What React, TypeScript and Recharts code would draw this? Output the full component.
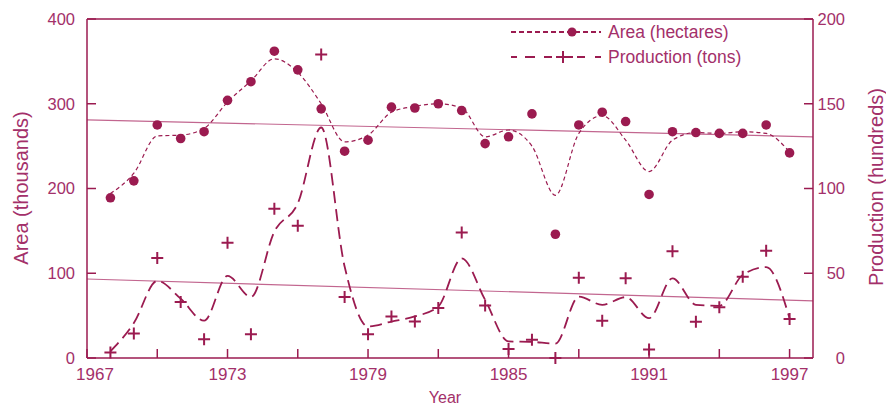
import React from 'react'
import {
  ComposedChart,
  Line,
  XAxis,
  YAxis,
  ReferenceLine,
  Legend,
} from 'recharts'

const years = [
  1968, 1969, 1970, 1971, 1972, 1973, 1974, 1975, 1976, 1977, 1978, 1979, 1980, 1981, 1982,
  1983, 1984, 1985, 1986, 1987, 1988, 1989, 1990, 1991, 1992, 1993, 1994, 1995, 1996, 1997,
]
// area, thousands of hectares (left axis)
const areaValues = [
  189, 209, 275, 259, 267, 304, 326, 362, 340, 294, 244, 257, 296, 295, 300,
  292, 253, 261, 288, 146, 275, 290, 279, 193, 267, 266, 265, 265, 275, 242,
]
const areaSmooth = [
  194, 218, 262, 263, 271, 302, 327, 353, 337, 300, 255, 263, 290, 297, 300,
  295, 261, 269, 250, 192, 265, 286, 257, 220, 257, 266, 265, 267, 265, 243,
]
// production, hundreds of tons (right axis)
const productionValues = [
  3.3, 14.5, 59, 33, 11, 68, 14, 88, 78, 179, 36, 14, 24.5, 21.5, 29.5,
  74, 31, 5.3, 10.8, 0, 47.4, 22, 47, 5, 63, 21.4, 30, 48, 63.3, 23,
]
const productionSmooth = [
  3.9, 20.6, 45.5, 35, 22, 48.4, 36, 74.6, 91.2, 136, 54, 18.6, 21.5, 24.5, 30.4,
  58.8, 34.3, 9.8, 9.5, 8.5, 36.2, 31.4, 35.9, 23.5, 47, 31.4, 30.8, 49, 53.6, 23.5,
]
const trendYears = [1967, 1998]
const areaTrend = [281, 261]
const productionTrend = [46.6, 33.7]

const xTicks = [1967, 1970, 1973, 1976, 1979, 1982, 1985, 1988, 1991, 1994, 1997]
const areaTicks = [0, 100, 200, 300, 400]
const productionTicks = [0, 50, 100, 150, 200]

const MAIN = '#9b1b50'
const TEXT = '#a3306a'
const TREND = '#c2668f'
const FONT = '"Liberation Sans", Arial, sans-serif'

const rows = years.map((year, i) => ({
  year,
  area: areaValues[i],
  areaFit: areaSmooth[i],
  production: productionValues[i],
  productionFit: productionSmooth[i],
}))
const areaTrendData = trendYears.map((year, i) => ({ year, value: areaTrend[i] }))
const productionTrendData = trendYears.map((year, i) => ({ year, value: productionTrend[i] }))

const Cross = (props: any) => {
  const { cx, cy } = props
  if (cx == null || cy == null) return <g />
  return (
    <path
      d={`M${cx - 6},${cy}H${cx + 6}M${cx},${cy - 6}V${cy + 6}`}
      stroke={MAIN}
      strokeWidth={2}
      fill="none"
    />
  )
}

const XTick = (props: any) => {
  const { x, y, payload } = props
  if ((payload.value - 1967) % 6 !== 0) return <g />
  const shift = payload.value === 1967 ? 8 : 0
  return (
    <text x={x + shift} y={y} dy="0.71em" textAnchor="middle" fill={TEXT} fontSize={17} fontFamily={FONT}>
      {payload.value}
    </text>
  )
}

const LeftTick = (props: any) => {
  const { x, y, payload } = props
  return (
    <text x={x} y={y} dy="0.355em" textAnchor="end" fill={TEXT} fontSize={16.5} fontFamily={FONT}>
      {payload.value}
    </text>
  )
}

const RightTick = (props: any) => {
  const { x, y, payload } = props
  return (
    <text x={x} y={y} dy="0.355em" textAnchor="end" fill={TEXT} fontSize={16.5} fontFamily={FONT}>
      {payload.value}
    </text>
  )
}

const Title = (props: any) => {
  const { tx, ty, text, rotate, size } = props
  return (
    <text
      x={tx}
      y={ty}
      transform={rotate ? `rotate(-90, ${tx}, ${ty})` : undefined}
      textAnchor="middle"
      dominantBaseline="central"
      fill={TEXT}
      fontSize={size}
      fontFamily={FONT}
    >
      {text}
    </text>
  )
}

const LegendBox = () => (
  <svg width={260} height={55} style={{ display: 'block' }}>
    <line x1={11} y1={17} x2={101} y2={17} stroke={MAIN} strokeWidth={2} strokeDasharray="5 3" />
    <circle cx={72} cy={17} r={4.5} fill={MAIN} />
    <text x={108} y={17} dominantBaseline="central" fill={TEXT} fontSize={17.5} fontFamily={FONT}>
      Area (hectares)
    </text>
    <line x1={11} y1={42} x2={101} y2={42} stroke={MAIN} strokeWidth={2.2} strokeDasharray="6 8 10 9 8 4 17 4 8 10" />
    <path d="M57,42H69M63,36V48" stroke={MAIN} strokeWidth={2} />
    <text x={108} y={42} dominantBaseline="central" fill={TEXT} fontSize={17.5} fontFamily={FONT}>
      Production (tons)
    </text>
  </svg>
)

export default function App() {
  return (
    <div style={{ position: 'absolute', left: 0, top: 0, width: 886, height: 405, background: '#fff' }}>
      <ComposedChart
        width={886}
        height={405}
        data={rows}
        margin={{ top: 19, right: 0, bottom: 0, left: 0 }}
        style={{ fontFamily: FONT }}
      >
        <XAxis
          dataKey="year"
          type="number"
          domain={[1967, 1998]}
          ticks={xTicks}
          interval={0}
          height={47}
          tickSize={-9}
          tickMargin={18.5}
          axisLine={{ stroke: MAIN, strokeWidth: 1.5 }}
          tickLine={{ stroke: MAIN, strokeWidth: 1.5 }}
          tick={<XTick />}
          label={<Title tx={445} ty={397} text="Year" size={16} />}
        />
        <YAxis
          yAxisId="left"
          domain={[0, 400]}
          ticks={areaTicks}
          width={87}
          tickSize={-9}
          tickMargin={21}
          axisLine={{ stroke: MAIN, strokeWidth: 1.5 }}
          tickLine={{ stroke: MAIN, strokeWidth: 1.5 }}
          tick={<LeftTick />}
          label={<Title tx={21} ty={188} text="Area (thousands)" rotate size={20} />}
        />
        <YAxis
          yAxisId="right"
          orientation="right"
          domain={[0, 200]}
          ticks={productionTicks}
          width={73}
          tickSize={-9}
          tickMargin={41}
          axisLine={{ stroke: MAIN, strokeWidth: 1.5 }}
          tickLine={{ stroke: MAIN, strokeWidth: 1.5 }}
          tick={<RightTick />}
          label={<Title tx={876} ty={187} text="Production (hundreds)" rotate size={20} />}
        />
        <ReferenceLine yAxisId="left" y={400} stroke={MAIN} strokeWidth={1.5} />
        <Line
          yAxisId="left"
          data={areaTrendData}
          dataKey="value"
          stroke={TREND}
          strokeWidth={1.2}
          dot={false}
          activeDot={false}
          isAnimationActive={false}
        />
        <Line
          yAxisId="right"
          data={productionTrendData}
          dataKey="value"
          stroke={TREND}
          strokeWidth={1.2}
          dot={false}
          activeDot={false}
          isAnimationActive={false}
        />
        <Line
          yAxisId="left"
          type="monotone"
          dataKey="areaFit"
          stroke={MAIN}
          strokeWidth={1.2}
          strokeDasharray="4 3"
          dot={false}
          activeDot={false}
          isAnimationActive={false}
        />
        <Line
          yAxisId="right"
          type="monotone"
          dataKey="productionFit"
          stroke={MAIN}
          strokeWidth={1.8}
          strokeDasharray="12 6"
          dot={false}
          activeDot={false}
          isAnimationActive={false}
        />
        <Line
          yAxisId="left"
          dataKey="area"
          stroke="none"
          dot={{ r: 4.8, fill: MAIN, stroke: 'none' }}
          activeDot={false}
          isAnimationActive={false}
        />
        <Line
          yAxisId="right"
          dataKey="production"
          stroke="none"
          dot={<Cross />}
          activeDot={false}
          isAnimationActive={false}
        />
        <Legend
          layout="vertical"
          align="center"
          verticalAlign="middle"
          wrapperStyle={{ left: 500, top: 15, width: 260, height: 55 }}
          content={<LegendBox />}
        />
      </ComposedChart>
    </div>
  )
}
